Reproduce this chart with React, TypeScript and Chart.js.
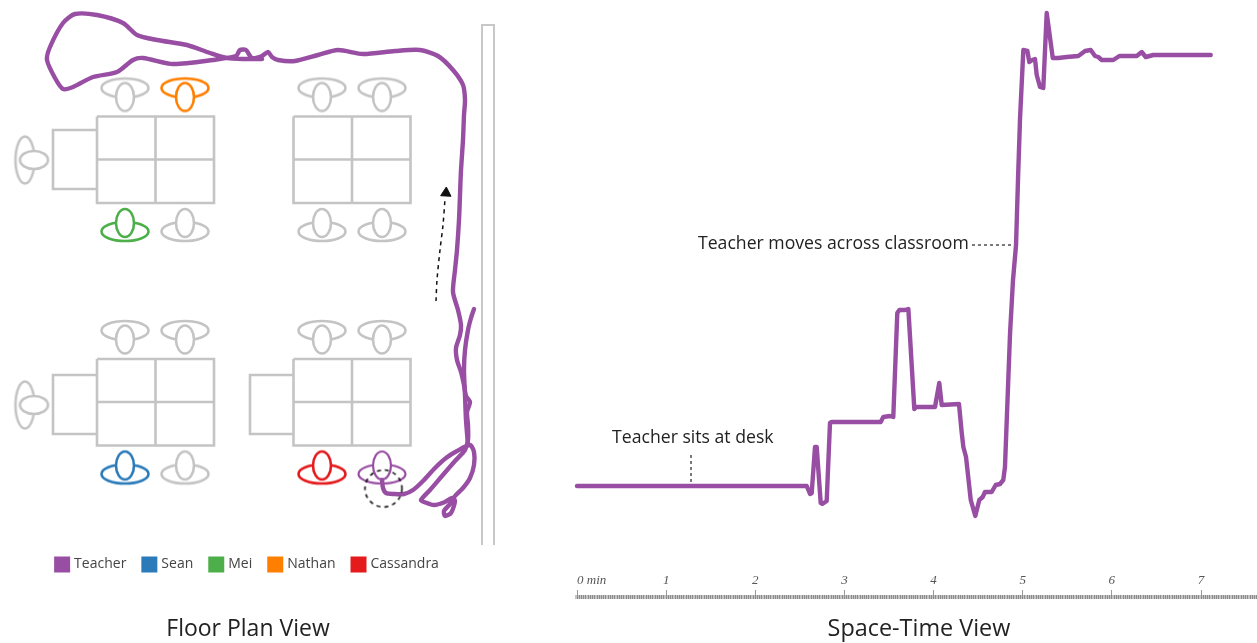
import React, { useEffect, useRef } from "react";
import { Chart, registerables } from "chart.js";

Chart.register(...registerables);

const PURPLE = "#984ea3";
const GREY = "#c4c4c4";
const BLUE = "#2b7bba";
const GREEN = "#4daf4a";
const ORANGE = "#ff7f00";
const RED = "#e41a1c";
const UI_FONT = "'Open Sans', Lato, sans-serif";

// --- Floor plan data (room coordinates) ---
const legendNames = ["Teacher", "Sean", "Mei", "Nathan", "Cassandra"];
// x0, y0, x1, y1, midX, midY
const tables = [
  [97, 116.5, 214, 203, 155.5, 159.5],
  [293.5, 116.5, 410.5, 203, 352, 159.5],
  [97, 359, 214, 445.5, 155.5, 402],
  [293.5, 359, 410.5, 445.5, 352, 402],
];
// x0, y0, x1, y1 (three sided, open against the table)
const desks = [
  [97, 130, 53, 189],
  [97, 375, 53, 434],
  [293.5, 375, 250, 434],
];
const wall = [[482, 545], [482, 25], [494, 25], [494, 545]];
const greySeatsTop = [[125, 92.5], [322, 92.5], [382, 92.5], [125, 335], [185, 335], [322, 335], [382, 335]];
const greySeatsBottom = [[185, 227], [322, 227], [382, 227], [185, 469.5]];
const greySeatsLeft = [[29.5, 160], [29.5, 405]];
const nathanSeat = [185, 92.5];
const meiSeat = [125, 227];
const seanSeat = [125, 469.5];
const cassandraSeat = [322, 469.5];
const teacherSeat = [382, 469.5];
const seatCircleCentre = [383.5, 488.5];
const walkArrow = [[436, 301], [437, 280], [440, 250], [443, 225], [445, 199]];
const walkArrowHead = [446, 193];

const teacherFloorPath = [
  [382, 480], [383, 488], [386, 493], [394, 494], [404, 494], [413, 490], [423, 481], [435, 468],
  [446, 458], [457, 451], [470, 445], [474, 452], [474, 465], [470, 478], [463, 488], [455, 496],
  [451, 503], [444, 511], [445, 516], [451, 513], [455, 501], [452, 498], [445, 502], [434, 505],
  [424, 502], [421, 500], [430, 490], [442, 476], [455, 461], [465, 450], [468, 440], [468, 425],
  [467, 412], [470, 402], [466, 396], [464, 385], [461, 372], [457, 360], [456, 348], [460, 335],
  [461, 325], [458, 310], [453, 292], [455, 270], [457, 250], [459, 220], [460, 195], [461, 170],
  [463, 140], [464, 115], [465, 100], [463, 85], [453, 70], [438, 56], [420, 50], [395, 51],
  [363, 54], [338, 50], [318, 55], [295, 61], [278, 60], [272, 57], [268, 52], [262, 56], [252, 58],
  [246, 50], [240, 50], [236, 56], [213, 60], [173, 64], [143, 58], [133, 60], [117, 72], [93, 77],
  [73, 87], [63, 89], [55, 78], [47, 60], [50, 47], [63, 23], [75, 14], [97, 15], [123, 23],
  [137, 35], [157, 40], [187, 45], [210, 53], [227, 58], [245, 59], [262, 59],
];
const teacherReturnStrand = [
  [468, 445], [466, 420], [465, 395], [464, 370], [465, 350], [468, 330], [471, 318], [474, 309],
];

// --- Space-time data ---
const timeMinutes = [
  0, 2.577, 2.614, 2.633, 2.67, 2.689, 2.734, 2.752, 2.801, 2.838, 2.857, 3.407, 3.436, 3.511, 3.548,
  3.593, 3.616, 3.68, 3.717, 3.784, 3.803, 4.016, 4.064, 4.091, 4.285, 4.316, 4.334, 4.364, 4.417,
  4.468, 4.513, 4.551, 4.577, 4.652, 4.697, 4.745, 4.782, 4.801, 4.858, 4.891, 4.925, 4.947, 4.97,
  5.007, 5.052, 5.074, 5.108, 5.138, 5.157, 5.194, 5.231, 5.269, 5.337, 5.399, 5.494, 5.624, 5.699,
  5.763, 5.811, 5.848, 5.886, 6.016, 6.084, 6.279, 6.335, 6.38, 6.465, 7.109,
];
const teacherPosition = [
  486, 486, 494, 493, 447, 447, 503, 504, 501, 423, 422, 422, 417, 416, 417,
  313, 310, 310, 309, 409, 407, 407, 383, 405, 404, 433, 447, 457, 500,
  516, 500, 497, 492, 492, 485, 484, 480, 467, 333, 280, 245, 180, 118,
  50, 51, 62, 60, 59, 75, 87, 88, 13, 58, 58, 57, 56, 51,
  50, 56, 57, 60, 60, 56, 56, 52, 57, 55, 55,
];
const tickLabels = ["\u00a0\u00a0\u00a0\u00a0\u00a0\u00a0\u00a0\u00a0\u00a00 min", "1", "2", "3", "4", "5", "6", "7"];
const deskLeader = [[1.279, 455], [1.279, 484]];
const moveLeader = [[4.431, 245], [4.914, 245]];
const notes = [
  { text: "Teacher sits at desk", t: 0.393, pos: 438 },
  { text: "Teacher moves across classroom", t: 1.357, pos: 244 },
];

const asXY = (pts: number[][]) => pts.map(([x, y]) => ({ x, y }));

function ellipse(ctx: CanvasRenderingContext2D, cx: number, cy: number, rx: number, ry: number, fill: boolean) {
  ctx.beginPath();
  ctx.ellipse(cx, cy, rx, ry, 0, 0, Math.PI * 2);
  if (fill) ctx.fill();
  ctx.stroke();
}

function seatGlyph(kind: "top" | "bottom" | "left", color: string, width = 2.6) {
  const c = document.createElement("canvas");
  c.width = 70;
  c.height = 70;
  const ctx = c.getContext("2d")!;
  ctx.translate(35, 35);
  ctx.strokeStyle = color;
  ctx.fillStyle = "#fff";
  ctx.lineWidth = width;
  if (kind === "top") {
    ellipse(ctx, 0, -4.5, 23.5, 9.5, false);
    ellipse(ctx, 0, 4.5, 9, 14, true);
  } else if (kind === "bottom") {
    ellipse(ctx, 0, 4.5, 23.5, 9.5, false);
    ellipse(ctx, 0, -4, 9, 14, true);
  } else {
    ellipse(ctx, -4.5, 0, 9.5, 23.5, false);
    ellipse(ctx, 4.5, 0, 14, 9, true);
  }
  return c;
}

function dashedCircleGlyph() {
  const c = document.createElement("canvas");
  c.width = 44;
  c.height = 44;
  const ctx = c.getContext("2d")!;
  ctx.strokeStyle = "#111";
  ctx.lineWidth = 1.6;
  ctx.setLineDash([4, 4]);
  ctx.beginPath();
  ctx.arc(22, 22, 18.5, 0, Math.PI * 2);
  ctx.stroke();
  return c;
}

const pixelY = {
  type: "linear",
  display: false,
  reverse: true,
  bounds: "data",
  afterDataLimits: (s: any) => {
    s.min = s.top;
    s.max = s.bottom;
  },
};

function line(pts: number[][], color: string, width: number, extra: object = {}) {
  return {
    label: "",
    data: asXY(pts),
    showLine: true,
    borderColor: color,
    backgroundColor: color,
    borderWidth: width,
    pointRadius: 0,
    clip: false,
    ...extra,
  };
}

function seats(label: string, pts: number[][], glyph: HTMLCanvasElement, color: string) {
  return {
    label,
    data: asXY(pts),
    showLine: false,
    pointStyle: glyph,
    pointRadius: 10,
    backgroundColor: color,
    borderColor: color,
    clip: false,
  };
}

export default function App() {
  const floorRef = useRef<HTMLCanvasElement>(null);
  const timeRef = useRef<HTMLCanvasElement>(null);

  useEffect(() => {
    const furniture: any[] = [];
    tables.forEach(([x0, y0, x1, y1, mx, my]) => {
      furniture.push(line([[x0, y0], [x1, y0], [x1, y1], [x0, y1], [x0, y0]], GREY, 2.6));
      furniture.push(line([[mx, y0], [mx, y1]], GREY, 2.6));
      furniture.push(line([[x0, my], [x1, my]], GREY, 2.6));
    });
    desks.forEach(([x0, y0, x1, y1]) => {
      furniture.push(line([[x0, y0], [x1, y0], [x1, y1], [x0, y1]], GREY, 2.6));
    });

    const roundPath = { borderCapStyle: "round", borderJoinStyle: "round", tension: 0.25 };
    const floor = new Chart(floorRef.current!, {
      type: "scatter",
      data: {
        datasets: [
          seats("circle", [seatCircleCentre], dashedCircleGlyph(), "#111"),
          line(teacherFloorPath, PURPLE, 4.4, { ...roundPath, label: "Teacher" }),
          line(teacherReturnStrand, PURPLE, 4.4, roundPath),
          line(walkArrow, "#111", 1.5, { borderDash: [4, 4], tension: 0.3 }),
          { label: "", data: asXY([walkArrowHead]), pointStyle: "triangle", pointRadius: 6, rotation: 3, backgroundColor: "#111", borderColor: "#111", clip: false },
          seats("Sean", [seanSeat], seatGlyph("bottom", BLUE), BLUE),
          seats("Mei", [meiSeat], seatGlyph("bottom", GREEN), GREEN),
          seats("Nathan", [nathanSeat], seatGlyph("top", ORANGE), ORANGE),
          seats("Cassandra", [cassandraSeat], seatGlyph("bottom", RED), RED),
          seats("", [teacherSeat], seatGlyph("bottom", PURPLE, 2.2), PURPLE),
          seats("", greySeatsTop, seatGlyph("top", GREY), GREY),
          seats("", greySeatsBottom, seatGlyph("bottom", GREY), GREY),
          seats("", greySeatsLeft, seatGlyph("left", GREY), GREY),
          line(wall, "#c8c8c8", 2),
          ...furniture,
        ] as any,
      },
      options: {
        animation: false,
        responsive: false,
        devicePixelRatio: 1,
        layout: { padding: 0, autoPadding: false },
        scales: {
          x: { type: "linear", display: false, min: 0, max: 496 },
          y: pixelY as any,
        },
        plugins: {
          tooltip: { enabled: false },
          legend: {
            position: "bottom",
            labels: {
              boxWidth: 10,
              boxHeight: 10,
              padding: 18,
              color: "#444",
              font: { family: UI_FONT, size: 14 },
              generateLabels: (chart: any) => {
                const all = Chart.defaults.plugins.legend.labels.generateLabels(chart);
                return legendNames.map((n) => {
                  const item = all.find((i: any) => i.text === n)!;
                  return { ...item, lineWidth: 6, strokeStyle: item.fillStyle, lineJoin: "miter", lineCap: "butt" };
                });
              },
            },
          },
          title: {
            display: true,
            text: "Floor Plan View",
            position: "bottom",
            color: "#222",
            font: { family: UI_FONT, size: 23, weight: "normal" },
            padding: { top: 34, bottom: 0 },
          },
        },
      },
    });

    const notePlugin = {
      id: "notes",
      afterDatasetsDraw(chart: any) {
        const { ctx, scales } = chart;
        ctx.save();
        ctx.fillStyle = "#222";
        ctx.font = `17.65px ${UI_FONT}`;
        ctx.textBaseline = "middle";
        notes.forEach((n) => {
          ctx.fillText(n.text, scales.x.getPixelForValue(n.t), scales.y.getPixelForValue(n.pos));
        });
        ctx.restore();
      },
    };

    const XMAX = 7.673;
    const time = new Chart(timeRef.current!, {
      type: "scatter",
      data: {
        datasets: [
          line(
            timeMinutes.map((t, i) => [t, teacherPosition[i]]),
            PURPLE,
            4.4,
            { label: "Teacher", borderCapStyle: "round", borderJoinStyle: "round", tension: 0 },
          ),
          line(deskLeader, "#222", 1.2, { borderDash: [3, 3] }),
          line(moveLeader, "#222", 1.2, { borderDash: [3, 3] }),
        ] as any,
      },
      options: {
        animation: false,
        responsive: false,
        devicePixelRatio: 1,
        layout: { padding: { left: 17 }, autoPadding: false },
        scales: {
          x: {
            type: "linear",
            min: 0,
            max: XMAX,
            position: { y: 597 } as any,
            border: { display: true, color: "#c4c4c4", width: 4 },
            grid: { drawOnChartArea: false, color: "#9a9a9a", tickLength: -9, lineWidth: 1 },
            ticks: {
              stepSize: 1,
              autoSkip: false,
              maxRotation: 0,
              padding: -15,
              color: "#555",
              font: { family: "'Liberation Serif', serif", size: 13, style: "italic" },
              callback: (v: any) => (Number.isInteger(v) ? tickLabels[v] : ""),
            },
          },
          xMinor: {
            type: "linear",
            axis: "x",
            min: 0,
            max: XMAX,
            position: { y: 595 } as any,
            border: { display: false },
            grid: { drawOnChartArea: false, color: "#8c8c8c", tickLength: 4, lineWidth: 1, z: 2 },
            ticks: { display: false, stepSize: 0.025, autoSkip: false },
          },
          y: pixelY as any,
        } as any,
        plugins: {
          tooltip: { enabled: false },
          legend: { display: false },
          title: {
            display: true,
            text: "Space-Time View",
            position: "bottom",
            color: "#222",
            font: { family: UI_FONT, size: 23.4, weight: "normal" },
            padding: { top: 8, bottom: 0 },
          },
        },
      },
      plugins: [notePlugin],
    });

    return () => {
      floor.destroy();
      time.destroy();
    };
  }, []);

  return (
    <div style={{ position: "fixed", left: 0, top: 0, width: 1257, height: 643, overflow: "hidden", background: "#fff" }}>
      <canvas ref={floorRef} width={496} height={643} style={{ position: "absolute", left: 0, top: 0 }} />
      <canvas ref={timeRef} width={701} height={643} style={{ position: "absolute", left: 560, top: 0 }} />
    </div>
  );
}
